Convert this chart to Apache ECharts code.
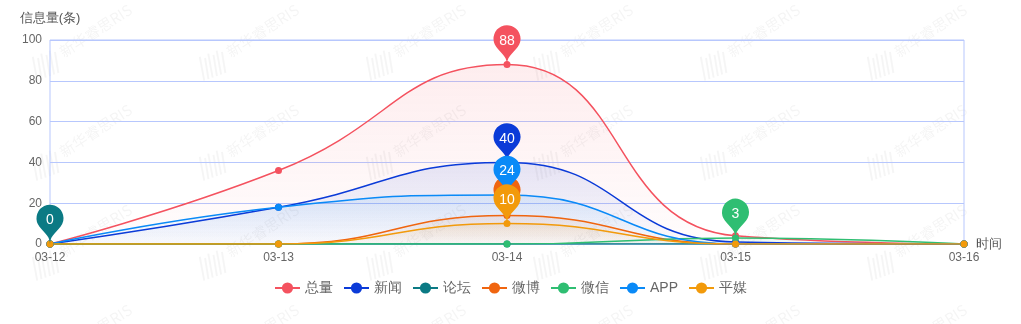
<!DOCTYPE html>
<html>
<head>
<meta charset="utf-8">
<script src="https://cdn.jsdelivr.net/npm/echarts@6/dist/echarts.min.js"></script>
<style>
  html, body { margin: 0; padding: 0; background: #fff; }
  #chart { width: 1021px; height: 324px; }
</style>
</head>
<body>
<div id="chart"></div>
<script>
// Dates on the x axis
const dates = ['03-12', '03-13', '03-14', '03-15', '03-16'];

// Message counts per channel
const seriesNames = ['总量', '新闻', '论坛', '微博', '微信', 'APP', '平媒'];
const totalVals  = [0, 36, 88, 4, 0];
const newsVals   = [0, 18, 40, 1, 0];
const forumVals  = [0, 0, 0, 0, 0];
const weiboVals  = [0, 0, 14, 0, 0];
const wechatVals = [0, 0, 0, 3, 0];
const appVals    = [0, 18, 24, 0, 0];
const printVals  = [0, 0, 10, 0, 0];

const yTicks = [0, 20, 40, 60, 80, 100];

const colors = ['#f4525f', '#0b3bd8', '#0b7a84', '#f0650f', '#2fbe72', '#0a8af7', '#f29a0b'];
const valueLists = [totalVals, newsVals, forumVals, weiboVals, wechatVals, appVals, printVals];

// Tiled background watermark
function watermarkTile() {
  const c = document.createElement('canvas');
  c.width = 167; c.height = 100;
  const g = c.getContext('2d');
  g.save();
  g.translate(64, 58);
  g.rotate(-33 * Math.PI / 180);
  g.font = '15px "Noto Sans CJK SC", sans-serif';
  g.fillStyle = 'rgba(0,0,0,0.045)';
  g.fillText('新华睿思RIS', 0, 0);
  g.restore();
  // striped logo mark
  g.save();
  g.translate(45, 64);
  g.rotate(-20 * Math.PI / 180);
  g.strokeStyle = 'rgba(0,0,0,0.04)';
  g.lineWidth = 2;
  for (let i = 0; i < 6; i++) {
    g.beginPath();
    g.moveTo(-13 + i * 4.5, 13);
    g.lineTo(-9 + i * 4.5, -11 + (i % 2) * 3);
    g.stroke();
  }
  g.restore();
  return c.toDataURL();
}

const el = document.getElementById('chart');
el.style.backgroundImage = 'url(' + watermarkTile() + ')';
el.style.backgroundRepeat = 'repeat';

function hexA(hex, a) {
  const n = parseInt(hex.slice(1), 16);
  return 'rgba(' + (n >> 16) + ',' + ((n >> 8) & 255) + ',' + (n & 255) + ',' + a + ')';
}

const chart = echarts.init(el, null, { renderer: 'canvas' });

const series = seriesNames.map((name, i) => ({
  name: name,
  type: 'line',
  smooth: true,
  symbol: 'circle',
  symbolSize: 7,
  showSymbol: true,
  data: valueLists[i],
  itemStyle: { color: colors[i] },
  lineStyle: { width: 1.5, color: colors[i] },
  areaStyle: {
    color: new echarts.graphic.LinearGradient(0, 0, 0, 1, [
      { offset: 0, color: hexA(colors[i], 0.15) },
      { offset: 1, color: hexA(colors[i], 0.02) }
    ])
  },
  markPoint: {
    // later series' pins stack above earlier ones
    z: 10 + i,
    symbol: 'pin',
    symbolSize: 45,
    data: [{ type: 'max', name: 'max' }],
    label: { color: '#fff', fontSize: 14 },
    itemStyle: { color: colors[i] }
  }
}));

chart.setOption({
  animation: false,
  color: colors,
  grid: {
    left: 50, right: 57, top: 40, bottom: 80,
    show: true, borderColor: '#b7c7fd', borderWidth: 1,
    backgroundColor: 'transparent'
  },
  legend: {
    bottom: 24,
    left: 'center',
    itemWidth: 25,
    itemHeight: 14,
    itemGap: 10,
    textStyle: { color: '#666', fontSize: 14 },
    data: seriesNames
  },
  xAxis: {
    type: 'category',
    data: dates,
    boundaryGap: false,
    name: '时间',
    nameGap: 12,
    nameTextStyle: { color: '#555', fontSize: 13 },
    axisLine: { show: false },
    axisTick: { show: false },
    axisLabel: { color: '#666', fontSize: 12, margin: 8 }
  },
  yAxis: {
    type: 'value',
    min: yTicks[0],
    max: yTicks[yTicks.length - 1],
    interval: yTicks[1] - yTicks[0],
    name: '信息量(条)',
    nameGap: 15,
    nameTextStyle: { color: '#555', fontSize: 13 },
    axisLine: { show: false },
    axisTick: { show: false },
    axisLabel: { color: '#666', fontSize: 12, margin: 8 },
    splitLine: { lineStyle: { color: '#b7c7fd', width: 1 } }
  },
  series: series
});
</script>
</body>
</html>
